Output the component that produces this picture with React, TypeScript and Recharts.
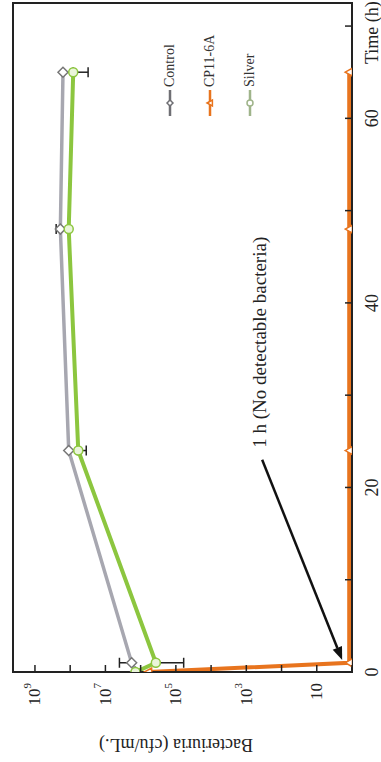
import React from 'react';
import { LineChart, Line, XAxis, YAxis, ErrorBar, ReferenceArea, ReferenceLine } from 'recharts';

// rotated figure: time runs bottom -> top, bacteriuria (log) right -> left
const hours = [0, 1, 24, 48, 65];
const control = [1.4e6, 1.8e6, 1.1e8, 1.9e8, 1.6e8];
const cp11 = [6e5, 1.2, 1.2, 1.2, 1.2];
const silver = [1.4e6, 3.7e5, 5.9e7, 1.1e8, 8.2e7];
const controlErr = [null, [0, 2.2e6], null, [0, 6e7], null];
const silverErr = [null, [3.1e5, 0], [2.4e7, 0], null, [5.1e7, 0]];

const timeTicks = [0, 10, 20, 30, 40, 50, 60, 70];
const timeLabels = [0, 20, 40, 60];
const countTicks = [1, 10, 100, 1e3, 1e4, 1e5, 1e6, 1e7, 1e8, 1e9];
const countLabels = [10, 1e3, 1e5, 1e7, 1e9];

const arrowFrom = { x: 23, y: 355 };
const arrowTo = { x: 1.3, y: 1.9 };
const note = '1 h (No detectable bacteria)';

const FONT = '"Liberation Serif", "DejaVu Serif", serif';
const INK = '#222';
const GRAY = '#a7a7b0';
const ORANGE = '#e8741e';
const GREEN = '#8cc63f';

const legendItems = [
  { name: 'Control', color: '#6f6f74', mark: 'diamond' },
  { name: 'CP11-6A', color: ORANGE, mark: 'triangle' },
  { name: 'Silver', color: '#9fb48a', mark: 'circle' },
];

const rows = hours.map((h, i) => ({
  hours: h,
  control: control[i],
  cp11: cp11[i],
  silver: silver[i],
  controlErr: controlErr[i],
  silverErr: silverErr[i],
}));

function Marker({ kind, cx, cy, color, fill = '#fff', s = 5 }: any) {
  if (kind === 'diamond')
    return <polygon points={`${cx},${cy - s} ${cx + s},${cy} ${cx},${cy + s} ${cx - s},${cy}`} fill={fill} stroke={color} strokeWidth={1.5} />;
  if (kind === 'triangle')
    return <polygon points={`${cx},${cy - s} ${cx + s},${cy + s * 0.8} ${cx - s},${cy + s * 0.8}`} fill={fill} stroke={color} strokeWidth={1.5} />;
  return <circle cx={cx} cy={cy} r={s} fill={fill} stroke={color} strokeWidth={1.5} />;
}

const TimeTick = (p: any) => {
  const v = p.payload.value;
  return (
    <g>
      <line x1={p.x} x2={p.x} y1={p.y} y2={p.y - 7} stroke={INK} strokeWidth={1.5} />
      {timeLabels.includes(v) && (
        <text x={p.x} y={p.y + 20} textAnchor="middle" dominantBaseline="central" fontSize={18} fill={INK} fontFamily={FONT}>
          {v}
        </text>
      )}
    </g>
  );
};

const CountTick = (p: any) => {
  const v = p.payload.value;
  const e = Math.round(Math.log10(v));
  return (
    <g>
      <line x1={p.x} x2={p.x + 7} y1={p.y} y2={p.y} stroke={INK} strokeWidth={1.5} />
      {countLabels.includes(v) && (
        <text x={p.x - 11} y={p.y} textAnchor="end" dominantBaseline="central" fontSize={17} fill={INK} fontFamily={FONT}>
          10
          {e > 1 && <tspan fontSize={11} dy={-8}>{e}</tspan>}
        </text>
      )}
    </g>
  );
};

const ArrowNote = (p: any) => {
  const { x1, y1, x2, y2 } = p;
  const a = Math.atan2(y2 - y1, x2 - x1);
  const L = 13, W = 5;
  const bx = x2 - L * Math.cos(a), by = y2 - L * Math.sin(a);
  const head = `${x2},${y2} ${bx + W * Math.sin(a)},${by - W * Math.cos(a)} ${bx - W * Math.sin(a)},${by + W * Math.cos(a)}`;
  return (
    <g>
      <line x1={x1} y1={y1} x2={bx} y2={by} stroke="#111" strokeWidth={2.5} />
      <polygon points={head} fill="#111" />
      <text x={x1 + 12} y={y1 - 3} dominantBaseline="central" fontSize={19} fill={INK} fontFamily={FONT}>
        {note}
      </text>
    </g>
  );
};

const LegendBox = () => (
  <div style={{ position: 'absolute', left: 646, top: 150, fontFamily: FONT, fontSize: 14, color: '#333' }}>
    {legendItems.map((s) => (
      <div key={s.name} style={{ display: 'flex', alignItems: 'center', height: 40 }}>
        <svg width={26} height={12}>
          <line x1={0} x2={26} y1={6} y2={6} stroke={s.color} strokeWidth={2.5} />
          <Marker kind={s.mark} cx={13} cy={6} color={s.color} s={3} />
        </svg>
        <span style={{ marginLeft: 3 }}>{s.name}</span>
      </div>
    ))}
  </div>
);

export default function App() {
  return (
    <div style={{ position: 'absolute', left: 0, top: 0, width: 381, height: 762, overflow: 'hidden', background: '#fff' }}>
      <div
        style={{
          position: 'absolute', left: 0, top: 0, width: 762, height: 381,
          transformOrigin: '0 0', transform: 'translateY(762px) rotate(-90deg)',
        }}
      >
        <LineChart width={762} height={381} data={rows} margin={{ top: 13, right: 3, bottom: 0, left: 0 }} style={{ fontFamily: FONT }}>
          <XAxis
            dataKey="hours" type="number" domain={[0, 72.5]} ticks={timeTicks} interval={0} allowDataOverflow
            height={29} tickSize={0} tickMargin={0} tickLine={false} tick={TimeTick}
            axisLine={{ stroke: INK, strokeWidth: 2 }}
            label={(lp: any) => {
              const vb = lp.viewBox;
              return (
                <text x={vb.x + vb.width - 61} y={vb.y + 20} dominantBaseline="central" fontSize={18} fill={INK} fontFamily={FONT}>
                  Time (h)
                </text>
              );
            }}
          />
          <YAxis
            scale="log" domain={[1, 4.2e9]} ticks={countTicks} interval={0} allowDataOverflow
            width={90} tickSize={0} tickMargin={0} tickLine={false} tick={CountTick}
            axisLine={{ stroke: INK, strokeWidth: 2 }}
            label={(lp: any) => {
              const vb = lp.viewBox;
              const cx = 17, cy = vb.y + 163;
              return (
                <text x={cx} y={cy} transform={`rotate(-90 ${cx} ${cy})`} textAnchor="middle" dominantBaseline="central" fontSize={18} fill={INK} fontFamily={FONT}>
                  Bacteriuria (cfu/mL.)
                </text>
              );
            }}
          />
          <ReferenceArea x1={0} x2={72.5} y1={1} y2={4.2e9} fill="none" stroke={INK} strokeWidth={2} ifOverflow="visible" />
          <Line
            dataKey="control" stroke={GRAY} strokeWidth={3.5} isAnimationActive={false}
            dot={(p: any) => <Marker key={`c${p.index}`} kind="diamond" cx={p.cx} cy={p.cy} color="#777" />}
          >
            <ErrorBar dataKey="controlErr" width={5} stroke={INK} strokeWidth={1.5} direction="y" />
          </Line>
          <Line
            dataKey="silver" stroke={GREEN} strokeWidth={4} isAnimationActive={false}
            dot={(p: any) => <Marker key={`s${p.index}`} kind="circle" cx={p.cx} cy={p.cy} color={GREEN} fill="#eaf5da" s={4.5} />}
          >
            <ErrorBar dataKey="silverErr" width={5} stroke={INK} strokeWidth={1.5} direction="y" />
          </Line>
          <Line
            dataKey="cp11" stroke={ORANGE} strokeWidth={4} isAnimationActive={false}
            dot={(p: any) => <Marker key={`o${p.index}`} kind="triangle" cx={p.cx} cy={p.cy} color={ORANGE} s={4} />}
          />
          <ReferenceLine segment={[arrowFrom, arrowTo]} ifOverflow="visible" shape={(p: any) => <ArrowNote {...p} />} />
        </LineChart>
        <LegendBox />
      </div>
    </div>
  );
}
